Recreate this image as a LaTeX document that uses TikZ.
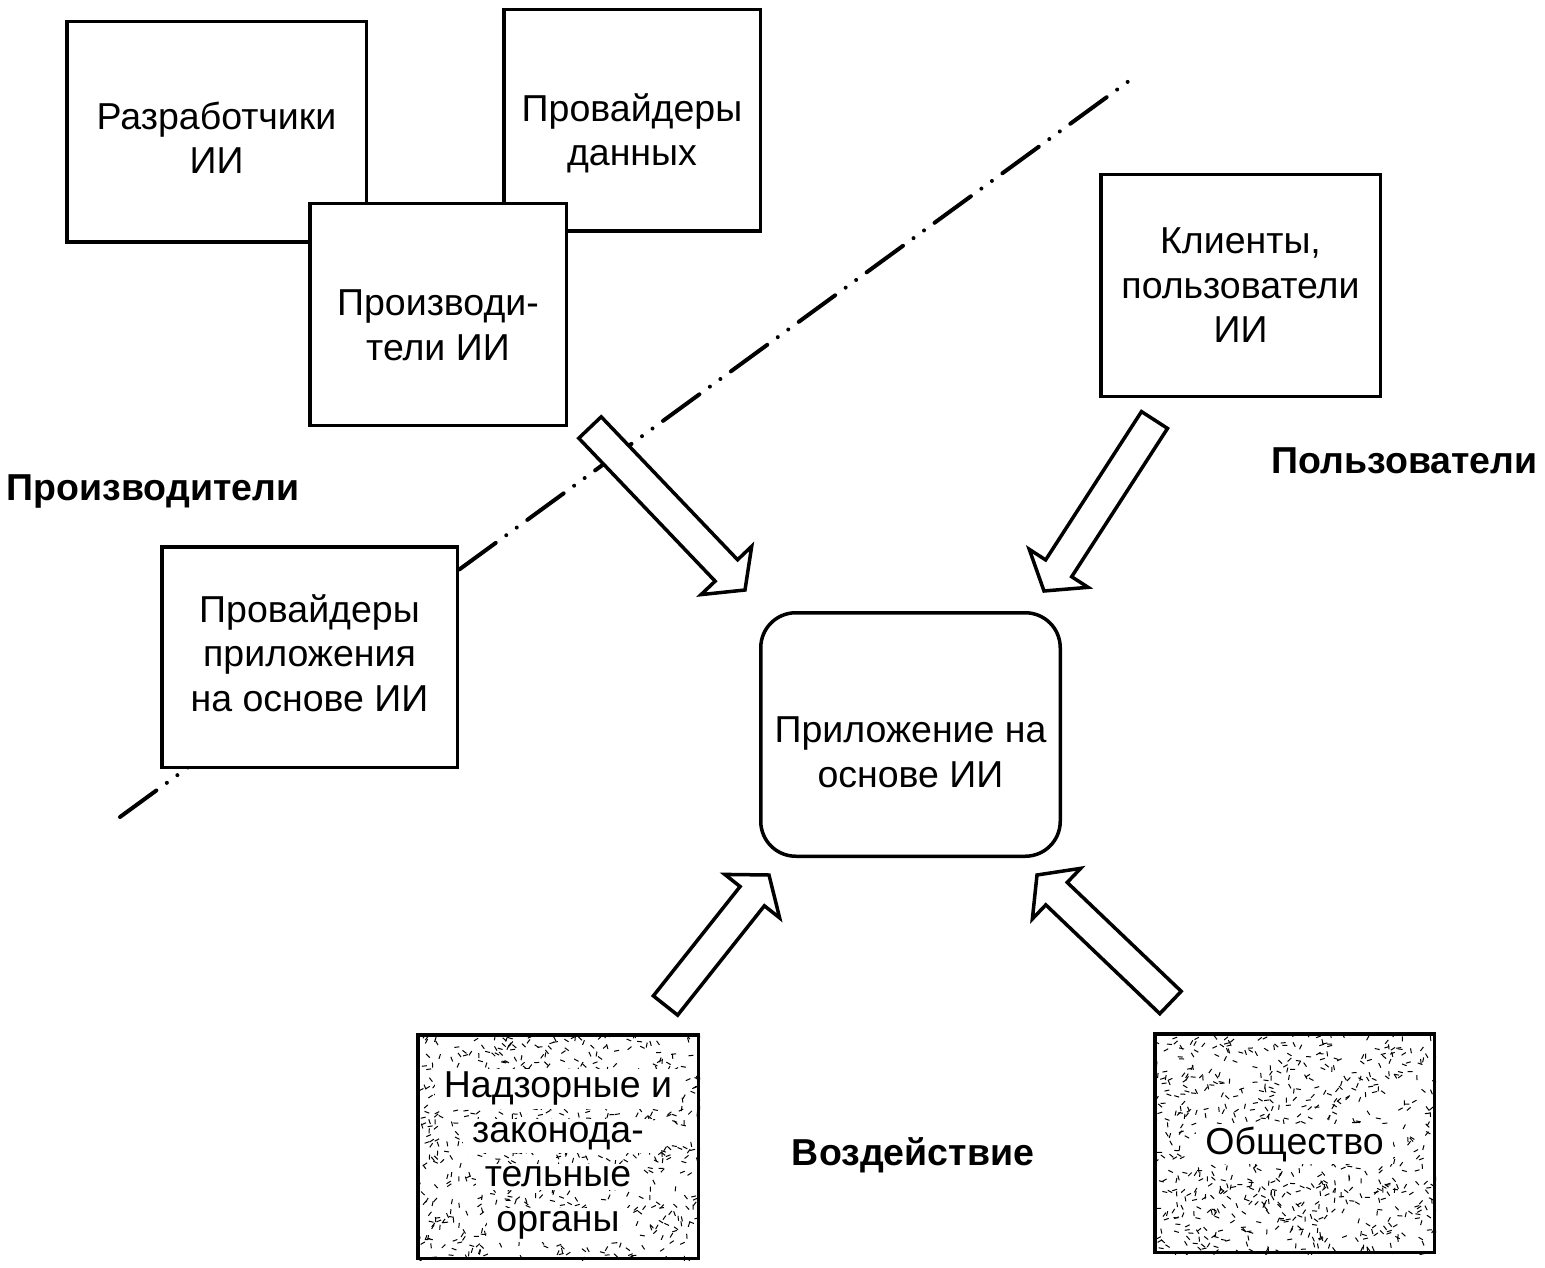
\documentclass[tikz,border=0pt]{standalone}
\usepackage{fontspec}
\setmainfont{Liberation Sans}
\usetikzlibrary{calc,backgrounds}
\setlength{\fboxsep}{3pt}
\newcommand\halo[1]{\colorbox{white}{\hspace{6pt}#1\hspace{6pt}}}
\tikzset{
  box/.style={draw, line width=3.5pt, fill=white, inner sep=0pt},
  txt/.style={inner sep=0pt, align=center, font=\fontsize{37.5}{44.5}\selectfont},
  tag/.style={font=\fontsize{37.5}{44.5}\selectfont\bfseries, inner sep=0pt, anchor=base},
  barrow/.style={draw, fill=white, line width=3.5pt, line join=miter},
  dashdotdot/.style={line width=4pt, line cap=round,
    dash pattern=on 45pt off 13pt on 0.01pt off 13pt on 0.01pt off 13pt},
  hatch/.style={line width=1pt},
}
\newcommand\blockarrow[2]{%
  \coordinate (#1n) at ($(#2)!27pt!(#1)$);
  \draw[barrow] ($(#1)!15.5pt!90:(#2)$) -- ($(#1n)!15.5pt!90:(#2)$)
    -- ($(#1n)!35pt!90:(#2)$) -- (#2) -- ($(#1n)!35pt!-90:(#2)$)
    -- ($(#1n)!15.5pt!-90:(#2)$) -- ($(#1)!15.5pt!-90:(#2)$) -- cycle;}
\begin{document}
\begin{tikzpicture}[x=1pt,y=-1pt]
\useasboundingbox (0,0) rectangle (1545,1268);
\pgfmathsetseed{12345}
% dash-dot-dot division line
\coordinate (l1) at (120,817);
\coordinate (l2) at (1133,78);
\draw[dashdotdot] (l1) -- (l2);

% boxes
\node[box, minimum width=299.5, minimum height=220.5] (dev) at (216.5,132) {};
\node[box, minimum width=256.5, minimum height=221.5] (dat) at (632,120.5) {};
\node[box, minimum width=256.5, minimum height=221.5] (prod) at (438,314.5) {};
\node[box, minimum width=279.5, minimum height=221.5] (cli) at (1240.5,285.5) {};
\node[box, minimum width=295.5, minimum height=220.5] (app) at (309.5,657) {};
\node[box, rounded corners=35pt, minimum width=299.5, minimum height=243.5] (core) at (910.5,734.5) {};
\node[box, fill=none, minimum width=280.5, minimum height=223.5] (reg) at (558,1146.5) {};
\node[box, fill=none, minimum width=279.5, minimum height=218.5] (soc) at (1294.5,1143) {};

% box texts
\node[txt] (devt) at ([yshift=-6pt]dev.center) {Разработчики\\ИИ};
\node[txt] (datt) at ([yshift=-13pt]dat.center) {Провайдеры\\данных};
\node[txt] (prodt) at ([yshift=-11pt]prod.center) {Производи-\\тели ИИ};
\node[txt] (clit) at (cli.center) {Клиенты,\\пользователи\\ИИ};
\node[txt] (appt) at ([yshift=4pt]app.center) {Провайдеры\\приложения\\на основе ИИ};
\node[txt] (coret) at ([yshift=-18pt]core.center) {Приложение на\\основе ИИ};
\node[txt] (regt) at ([yshift=-9pt]reg.center)
  {\halo{Надзорные и}\\\halo{законода-}\\\halo{тельные}\\\halo{органы}};
\node[txt] (soct) at ([yshift=-1pt]soc.center) {\halo{Общество}};

% stippled fill
\begin{pgfonlayer}{background}
  \begin{scope}
    \clip (reg.south west) rectangle (reg.north east);
    \foreach \i in {1,...,750}{\draw[hatch] (416+284*rnd,1033+227*rnd) -- ++(360*rnd:5);}
  \end{scope}
  \begin{scope}
    \clip (soc.south west) rectangle (soc.north east);
    \foreach \i in {1,...,750}{\draw[hatch] (1153+283*rnd,1032+222*rnd) -- ++(360*rnd:5);}
  \end{scope}
\end{pgfonlayer}

% labels
\node[tag] (lp) at (153,500) {Производители};
\node[tag] (lu) at (1404.5,473) {Пользователи};
\node[tag] (li) at (913,1165) {Воздействие};

% block arrows
\coordinate (a1) at (590,427.5);  \coordinate (a1e) at (745,590);
\coordinate (a2) at (1154.5,420); \coordinate (a2e) at (1044,591);
\coordinate (a3) at (665.5,1005.5); \coordinate (a3e) at (769,875);
\coordinate (a4) at (1170.5,1002.5); \coordinate (a4e) at (1037,875);
\blockarrow{a1}{a1e}
\blockarrow{a2}{a2e}
\blockarrow{a3}{a3e}
\blockarrow{a4}{a4e}
\end{tikzpicture}
\end{document}
